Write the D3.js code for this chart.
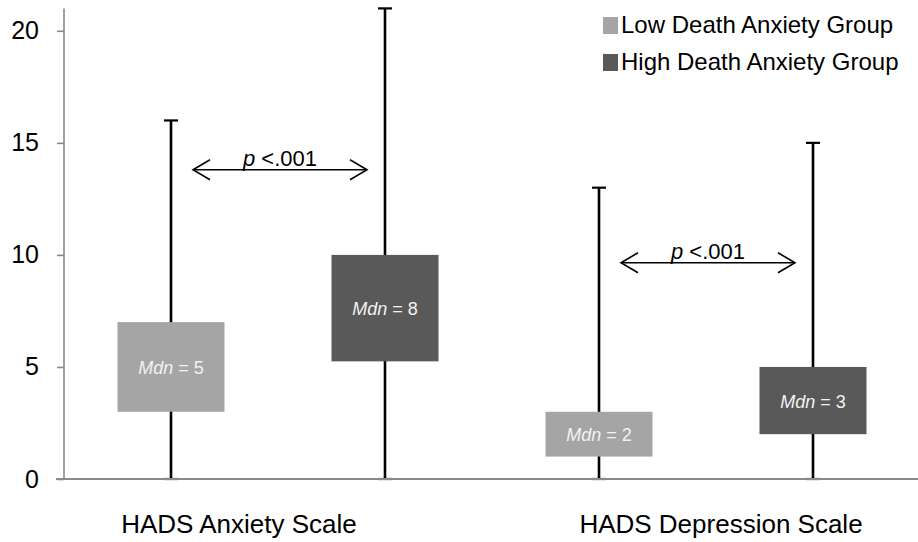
<!DOCTYPE html>
<html><head><meta charset="utf-8">
<script src="https://cdn.jsdelivr.net/npm/d3@7"></script>
<style>html,body{margin:0;padding:0;background:#fff;} svg{display:block;font-family:"Liberation Sans",Arial,sans-serif;}</style>
</head><body>
<svg id="chart" width="918" height="542"></svg>
<script>
const categories = ["HADS Anxiety Scale", "HADS Depression Scale"];
const groups = ["Low Death Anxiety Group", "High Death Anxiety Group"];
const groupColors = ["#a5a5a5", "#595959"];
// per group, per category
const minVals = [[0, 0], [0, 0]];
const q1Vals = [[3, 1], [5.25, 2]];
const medianVals = [[5, 2], [8, 3]];
const q3Vals = [[7, 3], [10, 5]];
const maxVals = [[16, 13], [21, 15]];
const yTicks = [0, 5, 10, 15, 20];
const pLabels = ["<.001", "<.001"];
const pArrowY = [13.8, 9.65];

const svg = d3.select("#chart");
const W = 918, H = 542;
const y = d3.scaleLinear().domain([0, 21]).range([479, 8.4]);

const slots = [];
categories.forEach((c, ci) => groups.forEach((g, gi) => slots.push(ci + "|" + gi)));
const x = d3.scaleBand().domain(slots).range([64, 920]).paddingInner(0.5).paddingOuter(0.25);
const labelX = d3.scalePoint().domain(categories).range([239, 721]);

const boxes = [];
categories.forEach((c, ci) => groups.forEach((g, gi) => boxes.push({
  key: ci + "|" + gi, ci, gi,
  min: minVals[gi][ci], q1: q1Vals[gi][ci], med: medianVals[gi][ci], q3: q3Vals[gi][ci], max: maxVals[gi][ci]
})));

// whiskers
const wg = svg.append("g");
boxes.forEach(b => {
  const cx = x(b.key) + x.bandwidth() / 2;
  wg.append("line").attr("x1", cx).attr("x2", cx).attr("y1", y(b.min)).attr("y2", y(b.max))
    .attr("stroke", "#000").attr("stroke-width", 2.6);
  [b.max, b.min].forEach(v => wg.append("line").attr("x1", cx - 7).attr("x2", cx + 7)
    .attr("y1", y(v)).attr("y2", y(v)).attr("stroke", "#000").attr("stroke-width", 2.2));
});

// boxes
const bg = svg.append("g");
boxes.forEach(b => {
  bg.append("rect").attr("x", x(b.key)).attr("width", x.bandwidth())
    .attr("y", y(b.q3)).attr("height", y(b.q1) - y(b.q3)).attr("fill", groupColors[b.gi]);
  const t = bg.append("text").attr("x", x(b.key) + x.bandwidth() / 2)
    .attr("y", (y(b.q1) + y(b.q3)) / 2 + 1).attr("text-anchor", "middle")
    .attr("dominant-baseline", "central").attr("font-size", 18).attr("fill", "#f2f2f2");
  t.append("tspan").attr("font-style", "italic").text("Mdn");
  t.append("tspan").text(" = " + b.med);
});

// axes
const axisColor = "#8a8a8a";
const yAxis = svg.append("g").attr("transform", "translate(64,0)")
  .call(d3.axisLeft(y).tickValues(yTicks).tickSize(7).tickPadding(18).tickFormat(d3.format("d")));
yAxis.select(".domain").attr("stroke", axisColor).attr("stroke-width", 1.6).attr("d", `M0,${y(21)}V${y(0)}`);
yAxis.selectAll(".tick line").attr("stroke", axisColor).attr("stroke-width", 1.6);
yAxis.selectAll(".tick text").attr("font-size", 25).attr("fill", "#000")
  .attr("font-family", "'Liberation Sans',Arial,sans-serif");
svg.append("line").attr("x1", 56).attr("x2", W).attr("y1", y(0)).attr("y2", y(0))
  .attr("stroke", axisColor).attr("stroke-width", 2);

// category labels
svg.append("g").selectAll("text").data(categories).join("text")
  .attr("x", d => labelX(d)).attr("y", 533).attr("text-anchor", "middle")
  .attr("font-size", 26).attr("fill", "#000").text(d => d);

// p-value arrows
categories.forEach((c, ci) => {
  const xl = x(ci + "|0") + x.bandwidth() / 2 + 22;
  const xr = x(ci + "|1") + x.bandwidth() / 2 - 18;
  const ay = y(pArrowY[ci]);
  const g = svg.append("g").attr("stroke", "#000").attr("stroke-width", 1.6).attr("fill", "none");
  g.append("line").attr("x1", xl).attr("x2", xr).attr("y1", ay).attr("y2", ay);
  g.append("path").attr("d", `M${xl + 17},${ay - 10}L${xl},${ay}L${xl + 17},${ay + 10}`);
  g.append("path").attr("d", `M${xr - 17},${ay - 10}L${xr},${ay}L${xr - 17},${ay + 10}`);
  const t = svg.append("text").attr("x", (xl + xr) / 2).attr("y", ay - 3.5)
    .attr("text-anchor", "middle").attr("font-size", 22).attr("fill", "#000");
  t.append("tspan").attr("font-style", "italic").text("p");
  t.append("tspan").text(" " + pLabels[ci]);
});

// legend
const lg = svg.append("g");
groups.forEach((g, gi) => {
  const ly = 33 + gi * 37;
  lg.append("rect").attr("x", 603).attr("y", ly - 16).attr("width", 15).attr("height", 17).attr("fill", groupColors[gi]);
  lg.append("text").attr("x", 621).attr("y", ly).attr("font-size", 24).attr("fill", "#000").text(g);
});
</script>
</body></html>
